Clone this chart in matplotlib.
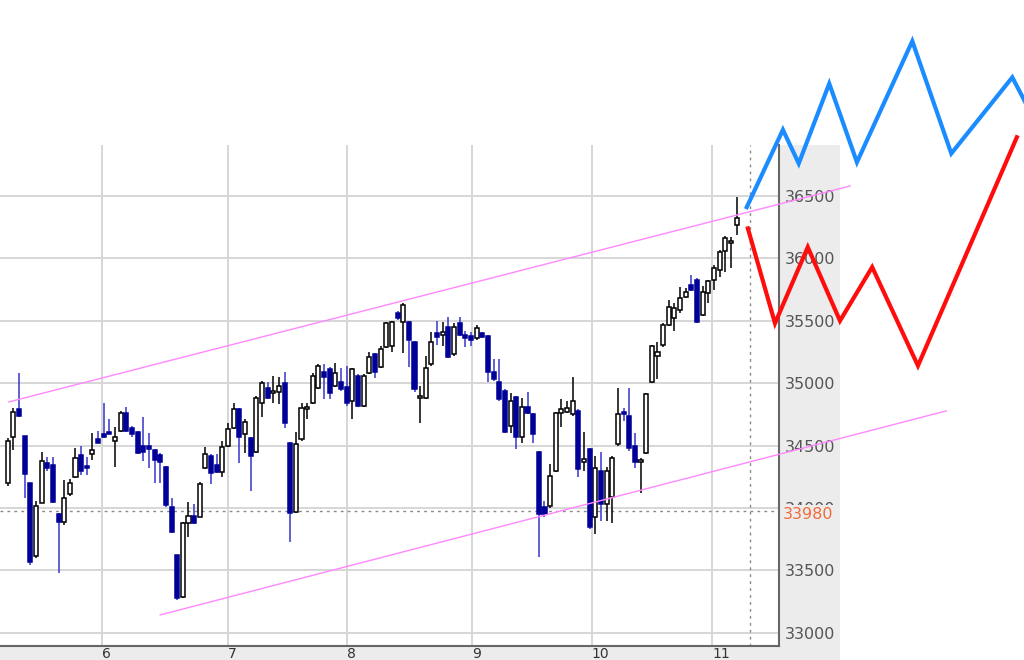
import matplotlib
matplotlib.use('Agg')
import matplotlib.pyplot as plt
import matplotlib.transforms as mtransforms
from matplotlib.patches import Rectangle
import numpy as np

# candle data (left to right)
opens = [34200, 34570, 34790, 34580, 34200, 33615, 34040, 34360, 34345, 33955,
         33890, 34110, 34250, 34425, 34340, 34435, 34555, 34590, 34610, 34540,
         34615, 34760, 34640, 34610, 34500, 34500, 34465, 34425, 34330, 34010,
         33620, 33290, 33880, 33940, 33930, 34320, 34420, 34345, 34290, 34500,
         34640, 34790, 34590, 34560, 34450, 34840, 34960, 34920, 34930, 35000,
         34520, 33970, 34550, 34790, 34840, 34960, 35090, 35110, 34980, 35010,
         34970, 34860, 35060, 34820, 35080, 35230, 35130, 35290, 35300, 35560,
         35490, 35490, 35330, 34880, 34880, 35150, 35400, 35390, 35450, 35230,
         35480, 35390, 35380, 35360, 35400, 35380, 35090, 35010, 34940, 34660,
         34890, 34570, 34810, 34750, 34450, 34010, 34020, 34300, 34760, 34770,
         34750, 34780, 34370, 34470, 33930, 34300, 34030, 34090, 34510, 34770,
         34740, 34500, 34370, 34440, 35010, 35220, 35310, 35470, 35520, 35590,
         35690, 35790, 35830, 35550, 35720, 35830, 35910, 36060, 36120, 36270]
highs = [34560, 34800, 35080, 34580, 34200, 34060, 34450, 34410, 34410, 33960,
         34225, 34230, 34480, 34500, 34410, 34600, 34620, 34840, 34710, 34650,
         34780, 34810, 34660, 34620, 34730, 34600, 34470, 34440, 34340, 34080,
         33625, 33890, 34050, 34030, 34210, 34490, 34430, 34430, 34540, 34680,
         34840, 34800, 34710, 34570, 34900, 35020, 35010, 35060, 35050, 35090,
         34530, 34610, 34840, 34840, 35080, 35150, 35150, 35130, 35160, 35120,
         35140, 35120, 35070, 35070, 35250, 35240, 35300, 35490, 35500, 35580,
         35640, 35500, 35340, 34980, 35220, 35410, 35500, 35490, 35530, 35480,
         35530, 35420, 35410, 35470, 35410, 35390, 35190, 35190, 34950, 34920,
         34900, 34880, 34930, 34760, 34460, 34060, 34350, 34770, 34870, 34860,
         35050, 34790, 34610, 34480, 34420, 34450, 34330, 34420, 34960, 34800,
         34960, 34600, 34400, 34920, 35310, 35330, 35480, 35670, 35640, 35770,
         35760, 35870, 35840, 35780, 35830, 35950, 36070, 36180, 36170, 36490]
lows = [34180, 34465, 34730, 34080, 33545, 33600, 34040, 34300, 34040, 33480,
        33865, 34100, 34240, 34265, 34265, 34385, 34520, 34560, 34590, 34330,
        34610, 34610, 34570, 34430, 34380, 34320, 34200, 34200, 34010, 33800,
        33265, 33280, 33770, 33870, 33930, 34310, 34190, 34280, 34250, 34490,
        34630, 34360, 34440, 34140, 34440, 34730, 34870, 34840, 34830, 34640,
        33730, 33960, 34540, 34710, 34830, 34950, 34870, 34870, 34970, 34940,
        34820, 34710, 34810, 34810, 35070, 35040, 35120, 35280, 35250, 35510,
        35240, 35130, 34930, 34680, 34870, 35140, 35310, 35300, 35200, 35220,
        35380, 35290, 35300, 35350, 35360, 35010, 35020, 34860, 34600, 34600,
        34470, 34520, 34750, 34520, 33610, 33930, 34000, 34290, 34650, 34760,
        34740, 34250, 34300, 33830, 33790, 33900, 33900, 33880, 34500, 34700,
        34460, 34320, 34120, 34430, 35000, 35030, 35290, 35460, 35420, 35560,
        35680, 35740, 35480, 35540, 35640, 35750, 35850, 35890, 35920, 36190]
closes = [34540, 34770, 34740, 34270, 33570, 34020, 34380, 34320, 34050, 33890,
          34080, 34200, 34400, 34300, 34320, 34465, 34525, 34570, 34595, 34570,
          34760, 34620, 34590, 34440, 34450, 34470, 34385, 34370, 34025, 33810,
          33280, 33880, 33940, 33880, 34190, 34430, 34280, 34290, 34490, 34630,
          34790, 34570, 34690, 34420, 34880, 35000, 34880, 34940, 34980, 34680,
          33960, 34510, 34800, 34810, 35060, 35140, 35050, 34920, 35080, 34950,
          34840, 35110, 34820, 35060, 35210, 35090, 35270, 35480, 35490, 35520,
          35630, 35350, 34950, 34890, 35120, 35330, 35370, 35410, 35210, 35450,
          35390, 35360, 35350, 35440, 35370, 35090, 35030, 34870, 34610, 34860,
          34570, 34810, 34760, 34590, 33950, 33950, 34260, 34760, 34790, 34800,
          34860, 34310, 34390, 33850, 34320, 34030, 34300, 34400, 34750, 34750,
          34480, 34370, 34380, 34910, 35300, 35250, 35470, 35610, 35600, 35680,
          35730, 35750, 35490, 35730, 35820, 35920, 36050, 36160, 36140, 36320]

price_ticks = [33000, 33500, 34000, 34500, 35000, 35500, 36000, 36500]
current_price = 33980
day_labels = ['6', '7', '8', '9', '10', '11']
day_pos = [16.7, 39.0, 60.0, 82.2, 103.4, 124.7]
now_pos = 131.4

# channel lines
upper_x = [0.2, 149.1]
upper_y = [34850, 36580]
lower_x = [27.0, 166.1]
lower_y = [33144, 34778]

# hand drawn zigzags
blue_x = [130.8, 137.2, 140.0, 145.4, 150.3, 160.1, 167.0, 177.8, 182.0]
blue_y = [36410, 37030, 36760, 37400, 36770, 37740, 36840, 37450, 37085]
red_x = [131.0, 135.8, 141.6, 147.3, 153.0, 161.1, 178.6]
red_y = [36240, 35480, 36090, 35500, 35930, 35140, 36970]

opens = np.array(opens)
highs = np.array(highs)
lows = np.array(lows)
closes = np.array(closes)
idx = np.arange(len(opens))

fig = plt.figure(figsize=(10.24, 6.6), dpi=100)
fig.patch.set_facecolor('white')

# gray price panel and time strip (behind the axes)
fig.patches.append(Rectangle((0.7607, 0), 0.0596, 0.7803, transform=fig.transFigure,
                             facecolor='#ececec', edgecolor='none', zorder=-10))
fig.patches.append(Rectangle((0, 0), 0.8203, 0.0212, transform=fig.transFigure,
                             facecolor='#ececec', edgecolor='none', zorder=-10))

ax = fig.add_axes([0, 0.0212, 0.7607, 0.7591])
ax.set_facecolor('white')
ax.set_xlim(-1.36, 136.5)
ax.set_ylim(32895, 36908)

ax.set_axisbelow(True)
ax.set_yticks(price_ticks)
ax.set_xticks(day_pos)
ax.set_xticklabels(day_labels)
for lab in ax.get_xticklabels():
    lab.set_ha('left')
ax.grid(color='#d6d6d6', lw=1.4)
ax.yaxis.tick_right()
ax.tick_params(axis='y', length=0, pad=4, labelsize=11.5, labelcolor='#555555')
ax.tick_params(axis='x', length=0, pad=1, labelsize=10, labelcolor='#333333')
for s in ['left', 'top']:
    ax.spines[s].set_visible(False)
for s in ['right', 'bottom']:
    ax.spines[s].set_color('#666666')
    ax.spines[s].set_linewidth(1.5)

# current price line and "now" line
ax.axhline(current_price, color='#8a8a8a', lw=1, ls=(0, (2, 3)), zorder=1)
ax.axvline(now_pos, color='#8a8a8a', lw=1, ls=(0, (2, 3)), zorder=1)
trans = mtransforms.blended_transform_factory(ax.transAxes, ax.transData)
ax.text(1.0, current_price - 30, '33980', transform=trans, color='#f26b3a',
        fontsize=11.5, va='center', ha='left', clip_on=False,
        bbox=dict(boxstyle='square,pad=0.12', facecolor='#ececec', edgecolor='none'))
# shift the label right to line up with the tick labels
ax.texts[-1].set_transform(trans + mtransforms.ScaledTranslation(4 / 100, 0, fig.dpi_scale_trans))

# candles
up = closes >= opens
dn = ~up
ax.vlines(idx[up], lows[up], highs[up], color='black', lw=1.1, zorder=2)
ax.vlines(idx[dn], lows[dn], highs[dn], color='#3636cc', lw=1.1, zorder=2)
body_lo = np.minimum(opens, closes)
body_h = np.maximum(np.abs(closes - opens), 15)
ax.bar(idx[up], body_h[up], bottom=body_lo[up], width=0.72, color='white',
       edgecolor='black', lw=1.1, zorder=3)
ax.bar(idx[dn], body_h[dn], bottom=body_lo[dn], width=0.72, color='#000099',
       edgecolor='#000099', lw=1.1, zorder=3)

# channel
ax.plot(upper_x, upper_y, color='#ff88ff', lw=1, clip_on=False, zorder=4)
ax.plot(lower_x, lower_y, color='#ff88ff', lw=1, clip_on=False, zorder=4)

# zigzags
ax.plot(blue_x, blue_y, color='#1a8cff', lw=3, clip_on=False, zorder=10,
        solid_joinstyle='miter')
ax.plot(red_x, red_y, color='#ff0d0d', lw=3, clip_on=False, zorder=10,
        solid_joinstyle='miter')

fig.savefig('out.png', dpi=100)
